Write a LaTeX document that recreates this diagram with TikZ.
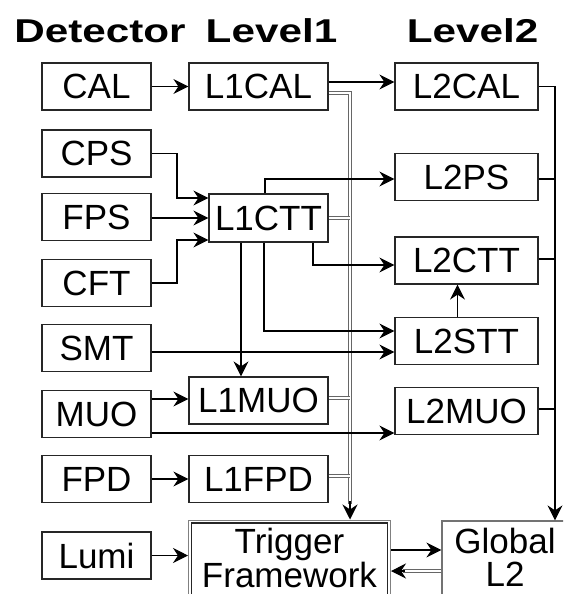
\documentclass[tikz,border=0pt]{standalone}
\usepackage{fontspec}
\setmainfont{Liberation Sans}
\newfontfamily\boxfont{Liberation Sans}
\newfontfamily\titlefont{Liberation Sans}[FakeStretch=1.28]
\usetikzlibrary{arrows.meta}
\begin{document}
\begin{tikzpicture}[x=1pt,y=-1pt,
  blk/.style={draw=black!85, line width=1.2pt, inner sep=0pt, text depth=0pt,
    font=\boxfont\fontsize{35}{34}\selectfont},
  dcol/.style={blk, minimum width=109pt, minimum height=47pt},
  lonecol/.style={blk, minimum width=139pt, minimum height=47pt},
  ltwocol/.style={blk, minimum width=143pt, minimum height=47pt},
  ttl/.style={anchor=base, inner sep=0pt, font=\titlefont\bfseries\fontsize{33}{34}\selectfont},
  conn/.style={draw=black, line width=1.1pt},
  arr/.style={conn, -{Stealth[length=15pt,width=15pt,inset=5pt]}},
  dbl/.style={draw=black!60, line width=1.25pt, double=white, double distance=1.9pt},
]
\useasboundingbox (0,0) rectangle (563,594);
\clip (0,0) rectangle (563,594);

% titles
\node[ttl] (tdet) at (100,43) {Detector};
\node[ttl] (tlone) at (271.5,43) {Level1};
\node[ttl] (tltwo) at (472.5,43) {Level2};

% boxes
\node[dcol] (cal) at (96.5,86.5) {CAL};
\node[lonecol] (l1cal) at (258.5,86.5) {L1CAL};
\node[ltwocol] (l2cal) at (466.5,86.5) {L2CAL};
\node[dcol] (cps) at (96.5,153.5) {CPS};
\node[dcol] (fps) at (96.5,217) {FPS};
\node[dcol] (cft) at (96.5,283) {CFT};
\node[blk, minimum width=119pt, minimum height=48pt] (l1ctt) at (268.5,218) {L1CTT};
\node[ltwocol] (l2ps) at (466.5,177) {L2PS};
\node[ltwocol] (l2ctt) at (466.5,260.5) {L2CTT};
\node[ltwocol] (l2stt) at (466.5,341) {L2STT};
\node[dcol] (smt) at (96.5,348) {SMT};
\node[lonecol] (l1muo) at (258.5,400.5) {L1MUO};
\node[dcol] (muo) at (96.5,414) {MUO};
\node[ltwocol] (l2muo) at (466.5,411) {L2MUO};
\node[dcol] (fpd) at (96.5,479) {FPD};
\node[lonecol] (l1fpd) at (258.5,479) {L1FPD};
\node[dcol] (lumi) at (96.5,555.5) {Lumi};
\node[blk, minimum width=196pt, minimum height=81pt, align=center,
      text height=64pt, text depth=17pt] (tf) at (289.5,563.5) {Trigger\\Framework};
\node[draw=black!50, line width=1pt, inner sep=0pt, minimum width=202pt,
      minimum height=87pt] (tfo) at (289.5,563.5) {};
\node[blk, draw=black!55, minimum width=126pt, minimum height=79pt, align=center,
      text height=65pt, text depth=14pt, font=\boxfont\fontsize{35}{33}\selectfont]
      (glob) at (505,560.5) {Global\\L2};

% Level 1 bus (double line)
\draw[dbl] (l1cal.east |- 0,93) -- (350,93) -- (350,504);
\draw[dbl] (l1ctt.east) -- (349.5,218);
\draw[dbl] (l1muo.east |- 0,398) -- (349.5,398);
\draw[dbl] (l1fpd.east |- 0,476) -- (349.5,476);
\draw[arr] (350,501) -- (tfo.north -| 350,0);

% Level 2 bus
\draw[arr] (l2cal.east) -| (glob.north -| 555,0);
\draw[conn] (l2ps.east |- 0,179) -- (555,179);
\draw[conn] (l2ctt.east |- 0,259) -- (555,259);
\draw[conn] (l2muo.east |- 0,409) -- (555,409);

% detector to level1
\draw[arr] (cal) -- (l1cal);
\draw[arr] (l1cal.east |- 0,82) -- (l2cal.west |- 0,82);
\draw[arr] (cps.east) -| (177,198) -- (l1ctt.west |- 0,198);
\draw[arr] (fps.east |- l1ctt.west) -- (l1ctt.west);
\draw[arr] (cft.east) -| (177,240) -- (l1ctt.west |- 0,240);

% L1CTT outputs
\draw[arr] (l1ctt.north -| 265,0) |- (l2ps.west |- 0,179);
\draw[arr] (l1ctt.south -| 313,0) |- (l2ctt.west |- 0,265);
\draw[arr] (l1ctt.south -| 264,0) |- (l2stt.west |- 0,331);
\draw[arr] (l1ctt.south -| 241,0) -- (l1muo.north -| 241,0);
\draw[arr] (l2stt.north -| 457.5,0) -- (l2ctt.south -| 457.5,0);

% other detectors
\draw[arr] (smt.east |- 0,352) -- (l2stt.west |- 0,352);
\draw[arr] (muo.east |- 0,399) -- (l1muo.west |- 0,399);
\draw[arr] (muo.east |- 0,433) -- (l2muo.west |- 0,433);
\draw[arr] (fpd) -- (l1fpd);
\draw[arr] (lumi.east) -- (tfo.west |- lumi.east);

% trigger framework <-> global L2
\draw[arr] (tfo.east |- 0,550) -- (glob.west |- 0,550);
\draw[dbl] (glob.west |- 0,571) -- (403,571);
\draw[arr] (405,571) -- (tfo.east |- 0,571);
\end{tikzpicture}
\end{document}
